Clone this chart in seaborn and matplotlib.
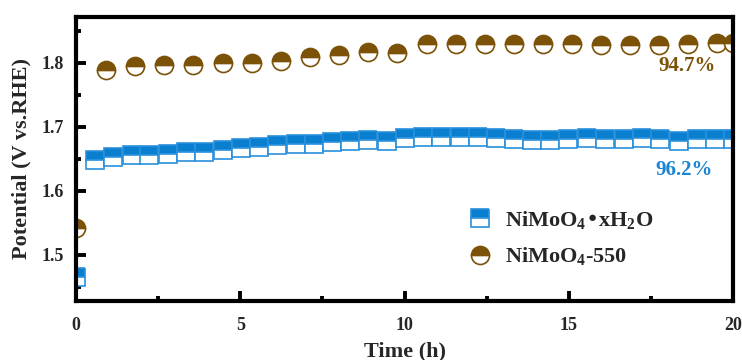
import numpy as np
import matplotlib
matplotlib.use("Agg")
import matplotlib.pyplot as plt
import seaborn as sns

# === DATA ===
t_hydrate = [0.0, 0.58, 1.14, 1.70, 2.23, 2.81, 3.35, 3.91, 4.47, 5.03, 5.58,
             6.13, 6.69, 7.23, 7.79, 8.35, 8.90, 9.46, 10.02, 10.56, 11.12,
             11.68, 12.23, 12.78, 13.34, 13.89, 14.44, 14.99, 15.56, 16.11,
             16.67, 17.23, 17.79, 18.35, 18.91, 19.46, 20.0]
v_hydrate = [1.465, 1.647, 1.652, 1.655, 1.656, 1.657, 1.660, 1.660, 1.664,
             1.666, 1.668, 1.671, 1.672, 1.673, 1.676, 1.677, 1.679, 1.678,
             1.682, 1.683, 1.683, 1.683, 1.683, 1.682, 1.680, 1.679, 1.679,
             1.681, 1.682, 1.681, 1.681, 1.682, 1.680, 1.678, 1.681, 1.681,
             1.681]

t_550 = [0.0, 0.90, 1.80, 2.69, 3.57, 4.47, 5.35, 6.24, 7.13, 8.01, 8.89,
         9.77, 10.68, 11.58, 12.46, 13.34, 14.22, 15.11, 15.99, 16.87, 17.76,
         18.64, 19.52, 20.0]
v_550 = [1.541, 1.789, 1.794, 1.796, 1.796, 1.799, 1.799, 1.803, 1.809,
         1.811, 1.817, 1.815, 1.829, 1.829, 1.829, 1.829, 1.829, 1.829,
         1.828, 1.828, 1.828, 1.829, 1.830, 1.831]

labels = ["NiMoO$_4$•xH$_2$O", "NiMoO$_4$-550"]
retention = ["96.2%", "94.7%"]

# === COLORS ===
blue = "#0a7fd0"
brown = "#7b5207"

# === STYLE ===
sns.set_theme(style="ticks")
plt.rcParams["font.family"] = ["Liberation Serif", "DejaVu Serif"]
plt.rcParams["font.weight"] = "bold"
plt.rcParams["mathtext.default"] = "regular"

fig = plt.figure(figsize=(7.42, 3.6), dpi=100)
ax = fig.add_axes([0.1024, 0.165, 0.8855, 0.7875])

sns.lineplot(x=t_hydrate, y=v_hydrate, ax=ax, marker="s", linestyle="",
             markersize=12.5, fillstyle="top", markerfacecoloralt="white",
             color=blue, markeredgecolor="#2a90dc", markeredgewidth=1.2,
             errorbar=None, label=labels[0])
sns.lineplot(x=t_550, y=v_550, ax=ax, marker="o", linestyle="",
             markersize=13, fillstyle="top", markerfacecoloralt="white",
             color=brown, markeredgecolor=brown, markeredgewidth=1.2,
             errorbar=None, label=labels[1])

# retention labels
ax.text(18.6, 1.794, retention[1], color=brown, fontsize=15,
        fontweight="bold", ha="center", va="center")
ax.text(18.5, 1.632, retention[0], color="#1a85d5", fontsize=15,
        fontweight="bold", ha="center", va="center")

# === AXES ===
ax.set_xlim(0, 20)
ax.set_ylim(1.428, 1.871)
ax.set_xticks([0, 5, 10, 15, 20])
ax.set_xticks([2.5, 7.5, 12.5, 17.5], minor=True)
ax.set_yticks([1.5, 1.6, 1.7, 1.8])
ax.set_yticks([1.45, 1.55, 1.65, 1.75, 1.85], minor=True)
ax.set_xlabel("Time (h)", fontsize=16, fontweight="bold", labelpad=5)
ax.set_ylabel("Potential (V vs.RHE)", fontsize=16, fontweight="bold", labelpad=7)

for side in ["left", "right", "top", "bottom"]:
    ax.spines[side].set_visible(True)
    ax.spines[side].set_linewidth(3)
    ax.spines[side].set_color("black")

ax.tick_params(which="major", direction="in", length=7.5, width=2.8,
               labelsize=13, color="black")
ax.tick_params(which="minor", direction="in", length=3.8, width=2.8,
               color="black")
ax.tick_params(axis="y", which="major", pad=9)
ax.tick_params(axis="x", which="major", pad=12)
for lab in ax.get_xticklabels() + ax.get_yticklabels():
    lab.set_fontweight("bold")

leg = ax.legend(loc="upper left", bbox_to_anchor=(0.585, 0.355), frameon=False,
                fontsize=16, handlelength=1.0, handletextpad=0.6,
                labelspacing=0.65, borderaxespad=0)
for txt in leg.get_texts():
    txt.set_fontweight("bold")

plt.savefig("out.png", dpi=100)
